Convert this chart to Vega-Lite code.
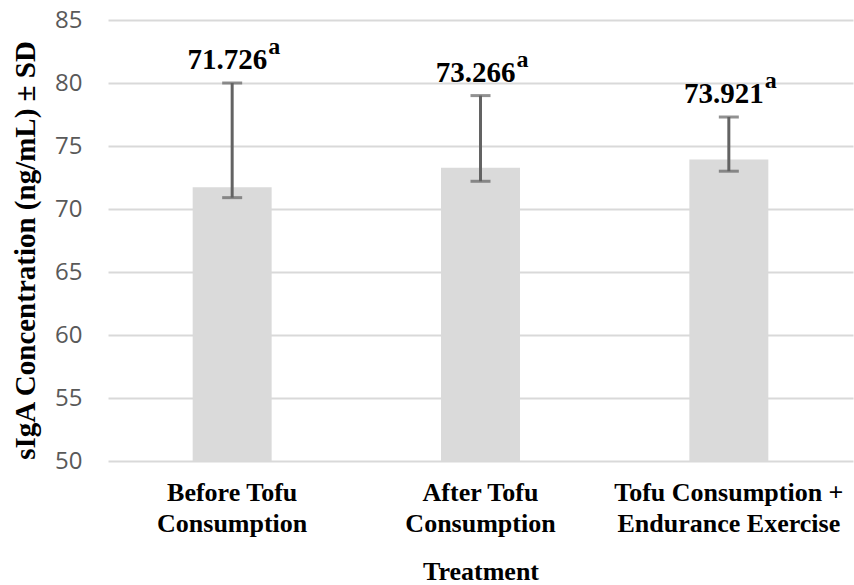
{
  "$schema": "https://vega.github.io/schema/vega-lite/v6.json",
  "width": 745,
  "height": 441,
  "autosize": {"type": "none"},
  "padding": {"left": 108, "top": 20, "right": 1, "bottom": 124},
  "background": "white",
  "data": {
    "values": [
      {"treatment": "Before Tofu Consumption", "mean": 71.726, "lower": 70.9, "upper": 80.0, "label": "71.726", "sup": "a"},
      {"treatment": "After Tofu Consumption", "mean": 73.266, "lower": 72.2, "upper": 79.0, "label": "73.266", "sup": "a"},
      {"treatment": "Tofu Consumption + Endurance Exercise", "mean": 73.921, "lower": 73.0, "upper": 77.3, "label": "73.921", "sup": "a"}
    ]
  },
  "encoding": {
    "x": {
      "field": "treatment",
      "type": "nominal",
      "sort": null,
      "scale": {"paddingInner": 0, "paddingOuter": 0},
      "axis": {
        "title": "Treatment",
        "labelExpr": "datum.value == 'Before Tofu Consumption' ? ['Before Tofu','Consumption'] : datum.value == 'After Tofu Consumption' ? ['After Tofu','Consumption'] : ['Tofu Consumption +','Endurance Exercise']",
        "labelAngle": 0,
        "labelFont": "Liberation Serif",
        "labelFontSize": 26,
        "labelFontWeight": "bold",
        "labelColor": "black",
        "labelLineHeight": 31,
        "labelPadding": 18,
        "labelOverlap": false,
        "labelLimit": 0,
        "titleFont": "Liberation Serif",
        "titleFontSize": 26,
        "titleFontWeight": "bold",
        "titleColor": "black",
        "titlePadding": 22,
        "grid": false,
        "domain": false,
        "ticks": false
      }
    }
  },
  "layer": [
    {
      "mark": {"type": "bar", "width": {"band": 0.318}, "fill": "#dadada"},
      "encoding": {
        "y": {
          "field": "mean",
          "type": "quantitative",
          "scale": {"domain": [50, 85], "nice": false, "zero": false},
          "axis": {
            "title": "sIgA Concentration (ng/mL) ± SD",
            "values": [50, 55, 60, 65, 70, 75, 80, 85],
            "grid": true,
            "gridColor": "#d9d9d9",
            "gridWidth": 2,
            "domain": false,
            "ticks": false,
            "labelFont": "Open Sans",
            "labelFontSize": 24,
            "labelColor": "#595959",
            "labelPadding": 26,
            "titleFont": "Liberation Serif",
            "titleFontSize": 29,
            "titleFontWeight": "bold",
            "titleColor": "black",
            "titleAngle": 270,
            "titleBaseline": "alphabetic",
            "titleAlign": "center",
            "titleX": -74,
            "titleY": 230
          }
        },
        "y2": {"datum": 50}
      }
    },
    {
      "mark": {"type": "rule", "strokeWidth": 3, "color": "#636363"},
      "encoding": {
        "y": {"field": "lower", "type": "quantitative", "title": "sIgA Concentration (ng/mL) ± SD"},
        "y2": {"field": "upper"}
      }
    },
    {
      "mark": {"type": "tick", "orient": "horizontal", "size": 20, "thickness": 3, "color": "#636363"},
      "encoding": {
        "y": {"field": "lower", "type": "quantitative", "title": "sIgA Concentration (ng/mL) ± SD"}
      }
    },
    {
      "mark": {"type": "tick", "orient": "horizontal", "size": 20, "thickness": 3, "color": "#636363"},
      "encoding": {
        "y": {"field": "upper", "type": "quantitative", "title": "sIgA Concentration (ng/mL) ± SD"}
      }
    },
    {
      "mark": {"type": "text", "align": "right", "baseline": "alphabetic", "dx": 35, "dy": -14, "font": "Liberation Serif", "fontWeight": "bold", "fontSize": 29, "color": "black"},
      "encoding": {
        "y": {"field": "upper", "type": "quantitative", "title": "sIgA Concentration (ng/mL) ± SD"},
        "text": {"field": "label"}
      }
    },
    {
      "mark": {"type": "text", "align": "left", "baseline": "alphabetic", "dx": 36, "dy": -29, "font": "Liberation Serif", "fontWeight": "bold", "fontSize": 24, "color": "black"},
      "encoding": {
        "y": {"field": "upper", "type": "quantitative", "title": "sIgA Concentration (ng/mL) ± SD"},
        "text": {"field": "sup"}
      }
    }
  ],
  "config": {
    "view": {"stroke": null}
  }
}
